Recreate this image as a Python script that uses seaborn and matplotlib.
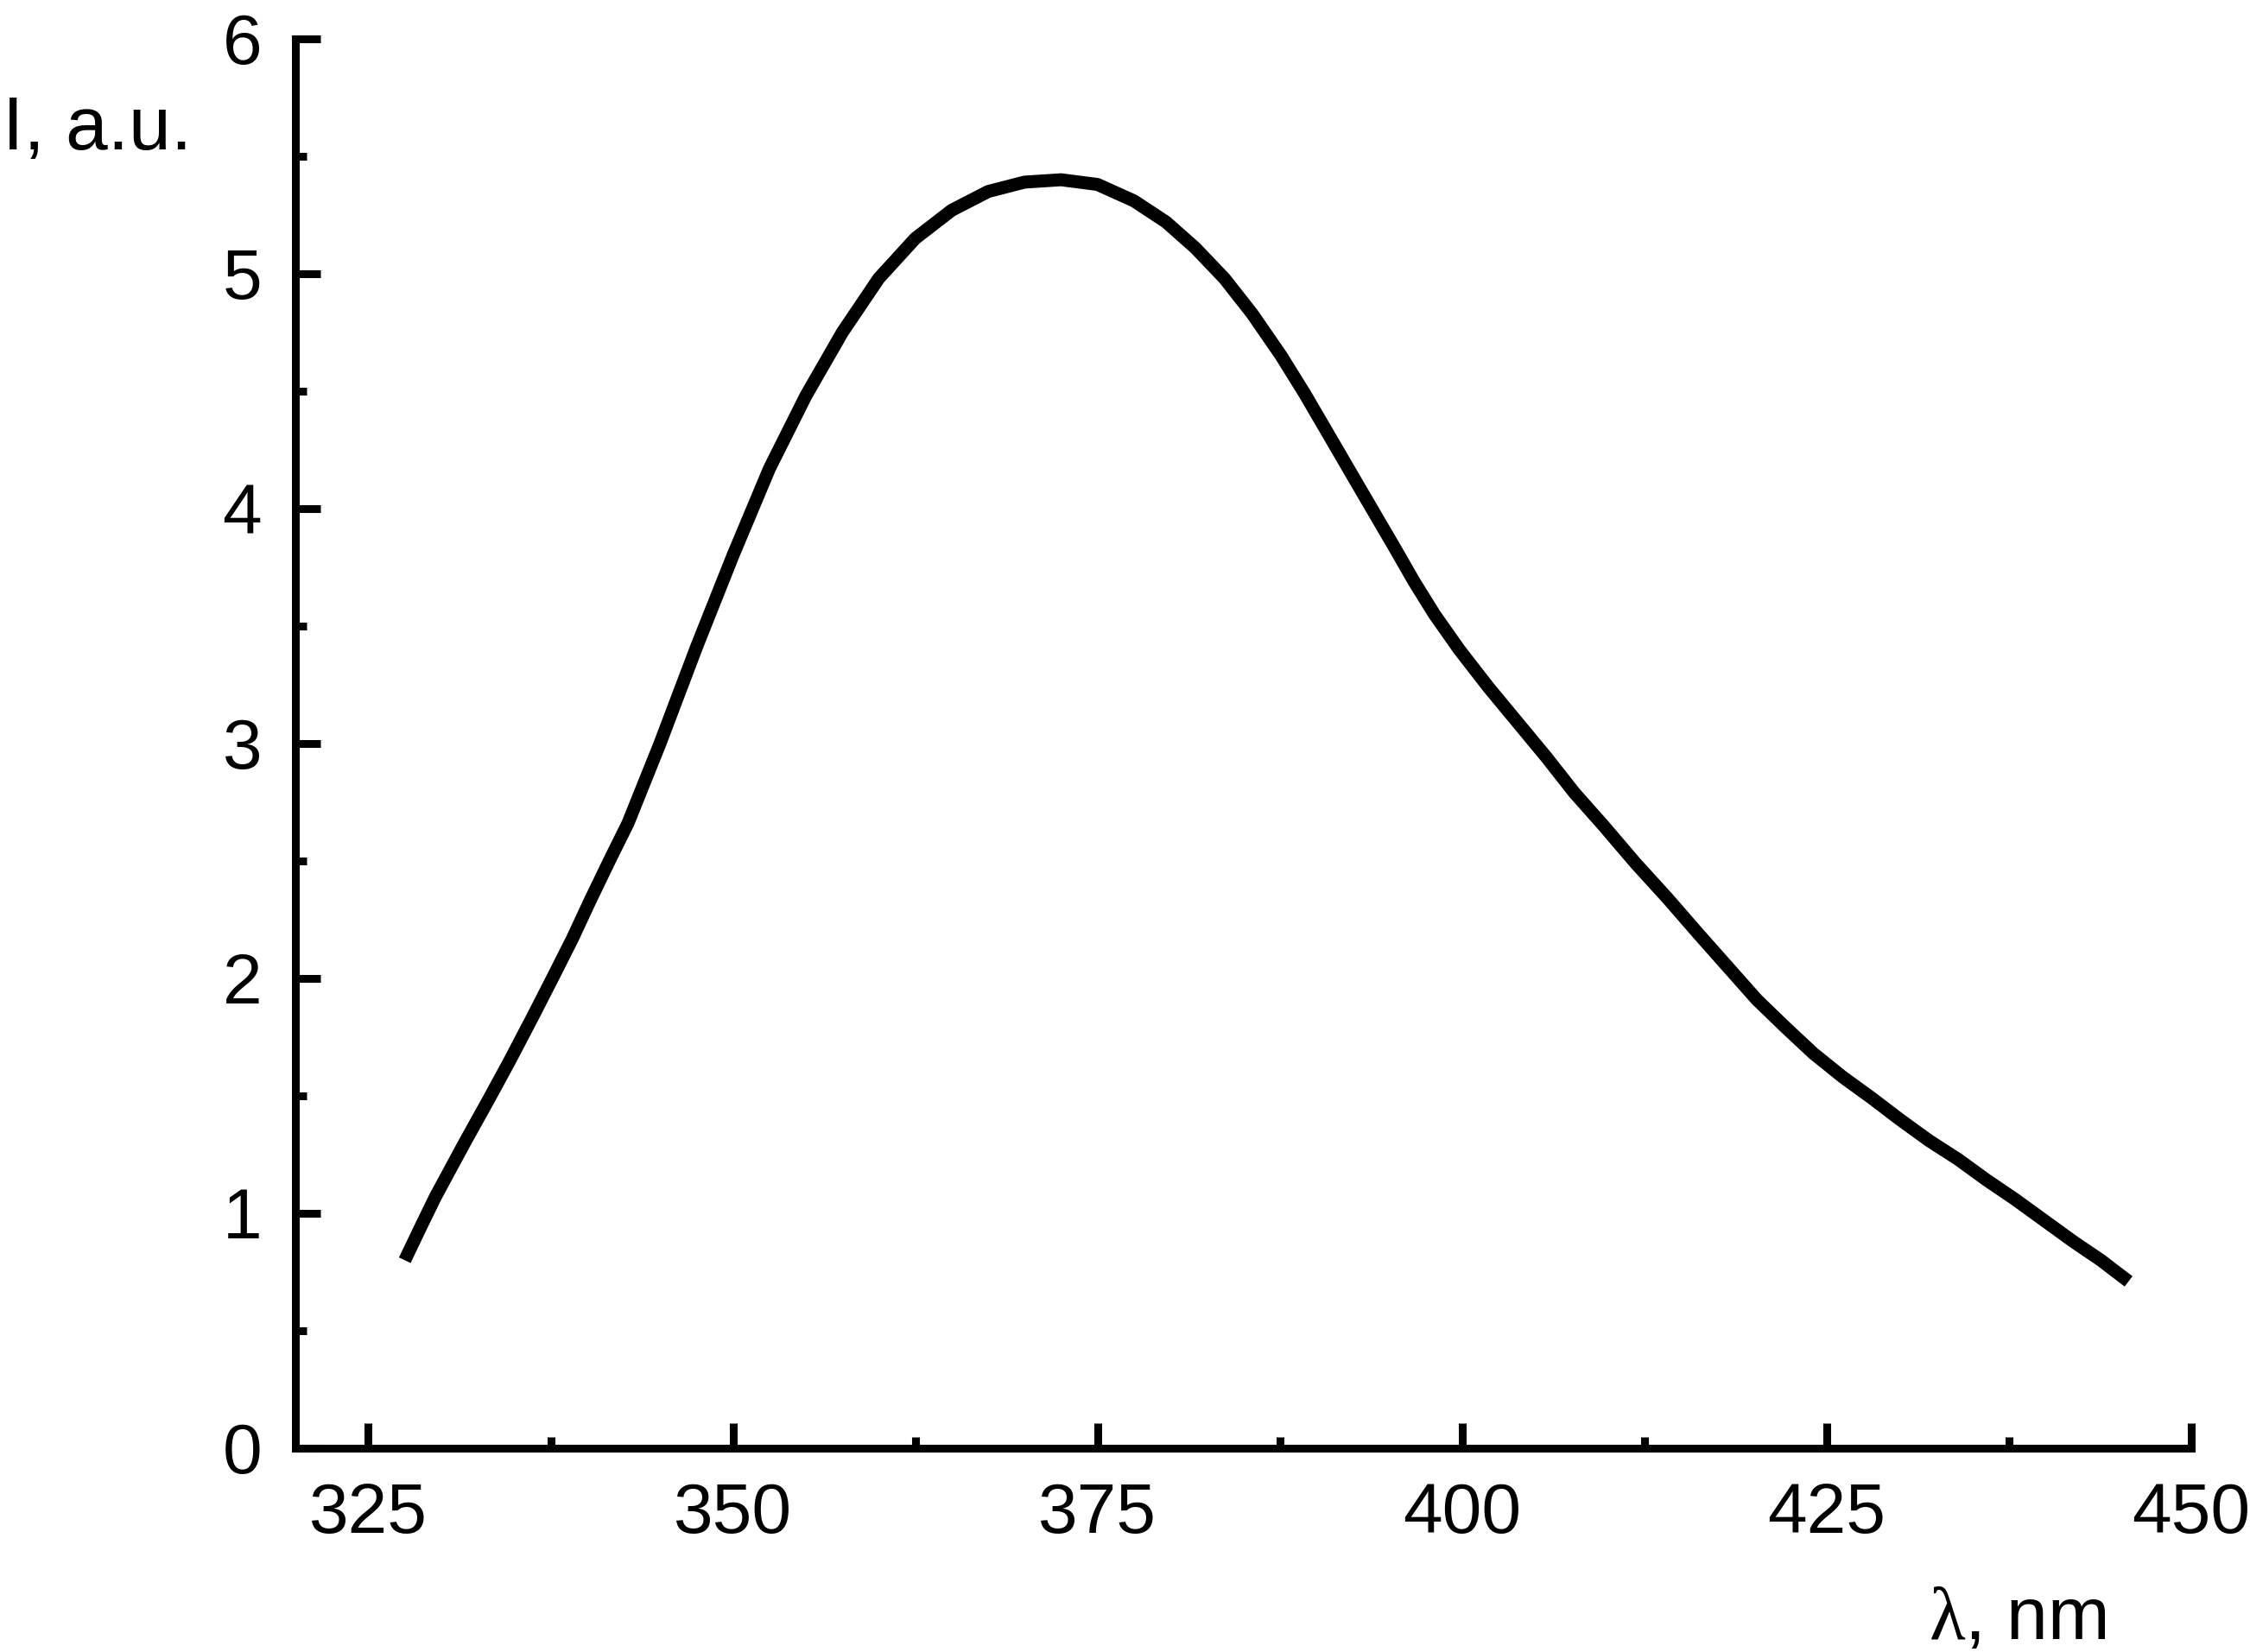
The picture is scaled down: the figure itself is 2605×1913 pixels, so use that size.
import numpy as np
import pandas as pd
import matplotlib
matplotlib.use('Agg')
import matplotlib.pyplot as plt
import seaborn as sns

# emission spectrum
wavelength = [327.5, 328.5, 329.6, 331.6, 333.3, 334.7, 336.3, 337.7, 339.0, 340.2,
              341.6, 342.8, 345.0, 347.5, 350.0, 352.5, 355.0, 357.5, 360.0, 362.5,
              365.0, 367.5, 370.0, 372.5, 375.0, 377.5, 379.7, 381.7, 383.7, 385.6,
              387.6, 389.2, 390.8, 392.3, 393.9, 395.5, 396.7, 398.1, 399.8, 401.8,
              403.8, 405.8, 407.7, 409.7, 411.9, 414.1, 416.2, 418.2, 420.2, 422.2,
              424.1, 426.1, 428.1, 430.0, 432.0, 434.0, 436.0, 437.9, 439.9, 441.9,
              443.8, 445.7]
intensity = [0.80, 0.93, 1.07, 1.30, 1.49, 1.65, 1.84, 2.01, 2.17, 2.33,
             2.51, 2.66, 3.00, 3.41, 3.80, 4.17, 4.48, 4.75, 4.98, 5.15,
             5.27, 5.35, 5.39, 5.40, 5.38, 5.31, 5.22, 5.11, 4.98, 4.83,
             4.65, 4.49, 4.32, 4.16, 3.99, 3.82, 3.69, 3.55, 3.40, 3.24,
             3.09, 2.94, 2.79, 2.65, 2.49, 2.34, 2.19, 2.05, 1.91, 1.79,
             1.68, 1.58, 1.49, 1.40, 1.31, 1.23, 1.14, 1.06, 0.97, 0.88,
             0.80, 0.71]

x_major = [325, 350, 375, 400, 425, 450]
x_minor = [337.5, 362.5, 387.5, 412.5, 437.5]
y_major = [0, 1, 2, 3, 4, 5, 6]
y_minor = [0.5, 1.5, 2.5, 3.5, 4.5, 5.5]

df = pd.DataFrame({'wavelength': wavelength, 'intensity': intensity})

sns.set_style('ticks')
plt.rcParams['font.family'] = ['Liberation Sans', 'DejaVu Sans']
plt.rcParams['text.color'] = 'black'

fig = plt.figure(figsize=(26.05, 19.13), dpi=100)
ax = fig.add_axes([0.1313, 0.1234, 0.8426, 0.8531])

sns.lineplot(data=df, x='wavelength', y='intensity', color='black', linewidth=10.8, ax=ax)
ax.lines[0].set_solid_capstyle('butt')
ax.lines[0].set_solid_joinstyle('round')

ax.set_xlim(320, 450)
ax.set_ylim(0, 6)
ax.set_xticks(x_major)
ax.set_xticks(x_minor, minor=True)
ax.set_yticks(y_major)
ax.set_yticks(y_minor, minor=True)
ax.tick_params(which='major', direction='in', length=21, width=6.5, labelsize=59, pad=28, colors='black')
ax.tick_params(which='minor', direction='in', length=9.5, width=6.5, colors='black')

sns.despine(ax=ax)
for s in ['left', 'bottom']:
    ax.spines[s].set_linewidth(6.5)
    ax.spines[s].set_color('black')
    ax.spines[s].set_capstyle('projecting')

ax.set_xlabel('')
ax.set_ylabel('')

fig.text(0.0012, 0.9096, 'I, a.u.', fontsize=63, ha='left', va='baseline', color='black')
fig.text(2234 / 2605, 1 - 1898 / 1913, 'λ', fontsize=62, ha='left', va='baseline', color='black',
         family=['Liberation Serif', 'DejaVu Serif'])
fig.text(2443 / 2605, 1 - 1898 / 1913, ', nm', fontsize=62, ha='right', va='baseline', color='black')

plt.savefig('out.png', dpi=100)
